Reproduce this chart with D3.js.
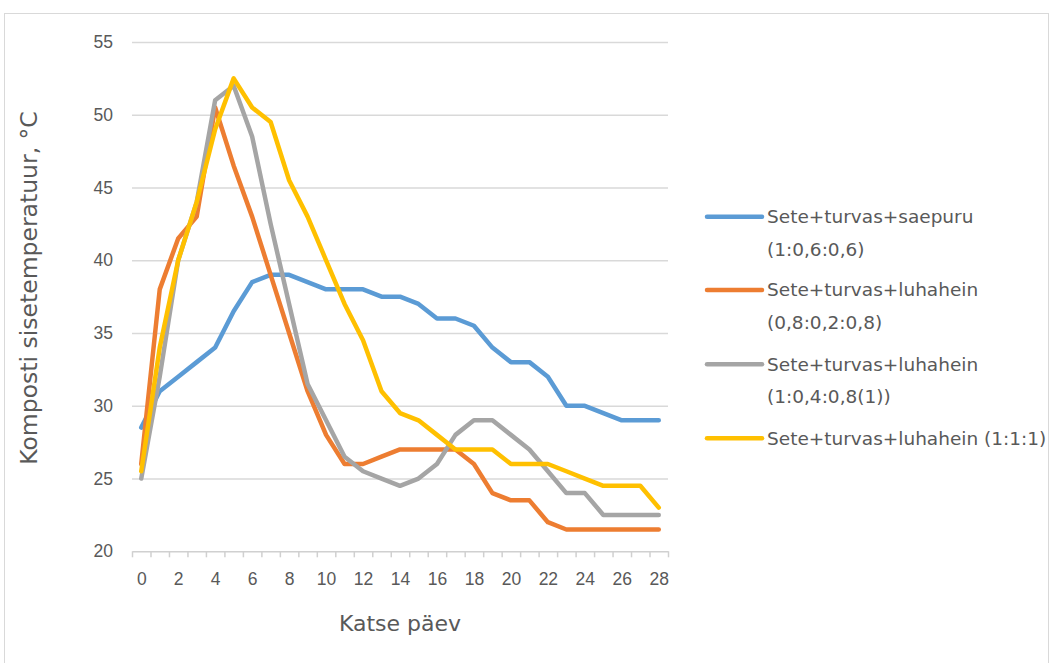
<!DOCTYPE html>
<html>
<head>
<meta charset="utf-8">
<script src="https://cdn.jsdelivr.net/npm/d3@7"></script>
<style>
  body { margin: 0; background: #fff; }
  svg { display: block; font-family: "DejaVu Sans", sans-serif; }
</style>
</head>
<body>
<div id="chart"></div>
<script>
const days = d3.range(0, 29);
const seriesNames = [
    ["Sete+turvas+saepuru", "(1:0,6:0,6)"],
    ["Sete+turvas+luhahein", "(0,8:0,2:0,8)"],
    ["Sete+turvas+luhahein", "(1:0,4:0,8(1))"],
    ["Sete+turvas+luhahein (1:1:1)"]
];
const saepuru = [28.5, 31, 32, 33, 34, 36.5, 38.5, 39, 39, 38.5, 38, 38, 38, 37.5, 37.5, 37, 36, 36, 35.5, 34, 33, 33, 32, 30, 30, 29.5, 29, 29, 29];
const luhahein08 = [26, 38, 41.5, 43, 50.5, 46.5, 43, 39, 35, 31, 28, 26, 26, 26.5, 27, 27, 27, 27, 26, 24, 23.5, 23.5, 22, 21.5, 21.5, 21.5, 21.5, 21.5, 21.5];
const luhahein04 = [25, 32, 40, 44, 51, 52, 48.5, 42.5, 37, 31.5, 29, 26.5, 25.5, 25, 24.5, 25, 26, 28, 29, 29, 28, 27, 25.5, 24, 24, 22.5, 22.5, 22.5, 22.5];
const luhahein111 = [25.5, 34, 40, 44, 49, 52.5, 50.5, 49.5, 45.5, 43, 40, 37, 34.5, 31, 29.5, 29, 28, 27, 27, 27, 26, 26, 26, 25.5, 25, 24.5, 24.5, 24.5, 23];
const yTicks = [20, 25, 30, 35, 40, 45, 50, 55];
const xLabels = d3.range(0, 29, 2);
const colors = ["#5b9bd5", "#ed7d31", "#a5a5a5", "#ffc000"];

const allSeries = [saepuru, luhahein08, luhahein04, luhahein111];

const width = 1060;
const height = 663;
const margin = { top: 42, right: 392, bottom: 112, left: 132 };

const svg = d3.select("#chart")
    .append("svg")
    .attr("width", width)
    .attr("height", height);

// chart frame
svg.append("rect")
    .attr("x", 4.5)
    .attr("y", 13.5)
    .attr("width", 1044)
    .attr("height", 670)
    .attr("fill", "none")
    .attr("stroke", "#d9d9d9");

const x = d3.scaleLinear()
    .domain([-0.5, 28.5])
    .range([margin.left, width - margin.right]);

const y = d3.scaleLinear()
    .domain([20, 55])
    .range([height - margin.bottom + 0.3, margin.top]);

// gridlines
svg.append("g")
    .attr("transform", `translate(${margin.left}, 0)`)
    .call(d3.axisLeft(y).tickValues(yTicks.slice(1)).tickSize(-(width - margin.right - margin.left)).tickFormat(""))
    .call(g => g.select(".domain").remove())
    .selectAll("line")
    .attr("stroke", "#d9d9d9")
    .attr("stroke-width", 1.5);

// y labels
svg.append("g")
    .attr("transform", `translate(${margin.left}, 0)`)
    .call(d3.axisLeft(y).tickValues(yTicks).tickSize(0).tickPadding(19))
    .call(g => g.select(".domain").remove())
    .selectAll("text")
    .attr("fill", "#595959")
    .style("font-size", "17.5px");

// x axis line + tick marks at category borders
svg.append("g")
    .attr("transform", `translate(0, ${y(20)})`)
    .call(d3.axisBottom(x).tickValues(d3.range(-0.5, 29, 1)).tickSize(6).tickSizeOuter(0).tickFormat(""))
    .call(g => g.selectAll("line, path").attr("stroke", "#d0d0d0").attr("stroke-width", 1.5));

// x labels
svg.append("g")
    .attr("transform", `translate(0, ${y(20)})`)
    .call(d3.axisBottom(x).tickValues(xLabels).tickSize(0).tickPadding(21))
    .call(g => g.select(".domain").remove())
    .selectAll("text")
    .attr("fill", "#595959")
    .style("font-size", "17.5px");

// lines
const line = d3.line()
    .x((d, i) => x(days[i]))
    .y(d => y(d));

svg.selectAll(".series")
    .data(allSeries)
    .enter()
    .append("path")
    .attr("class", "series")
    .attr("d", d => line(d))
    .attr("fill", "none")
    .attr("stroke", (d, i) => colors[i])
    .attr("stroke-width", 4.5)
    .attr("stroke-linejoin", "round")
    .attr("stroke-linecap", "round");

// axis titles
svg.append("text")
    .attr("x", (x.range()[0] + x.range()[1]) / 2)
    .attr("y", 631)
    .attr("text-anchor", "middle")
    .attr("fill", "#595959")
    .style("font-size", "22px")
    .text("Katse päev");

svg.append("text")
    .attr("transform", "translate(37, 288) rotate(-90)")
    .attr("text-anchor", "middle")
    .attr("fill", "#595959")
    .style("font-size", "23.5px")
    .text("Komposti sisetemperatuur, °C");

// legend
const legendY = [216.7, 290, 364.3, 438.3];
const legend = svg.selectAll(".legend")
    .data(seriesNames)
    .enter()
    .append("g")
    .attr("class", "legend")
    .attr("transform", (d, i) => `translate(707, ${legendY[i]})`);

legend.append("line")
    .attr("x1", 0)
    .attr("x2", 55)
    .attr("stroke", (d, i) => colors[i])
    .attr("stroke-width", 4.5)
    .attr("stroke-linecap", "round");

legend.each(function(d) {
    const t = d3.select(this).append("text")
        .attr("x", 60)
        .attr("fill", "#595959")
        .style("font-size", "18.5px");
    d.forEach((s, k) => {
        t.append("tspan")
            .attr("x", 60)
            .attr("y", k * 32.5)
            .attr("dy", "0.35em")
            .text(s);
    });
});
</script>
</body>
</html>
